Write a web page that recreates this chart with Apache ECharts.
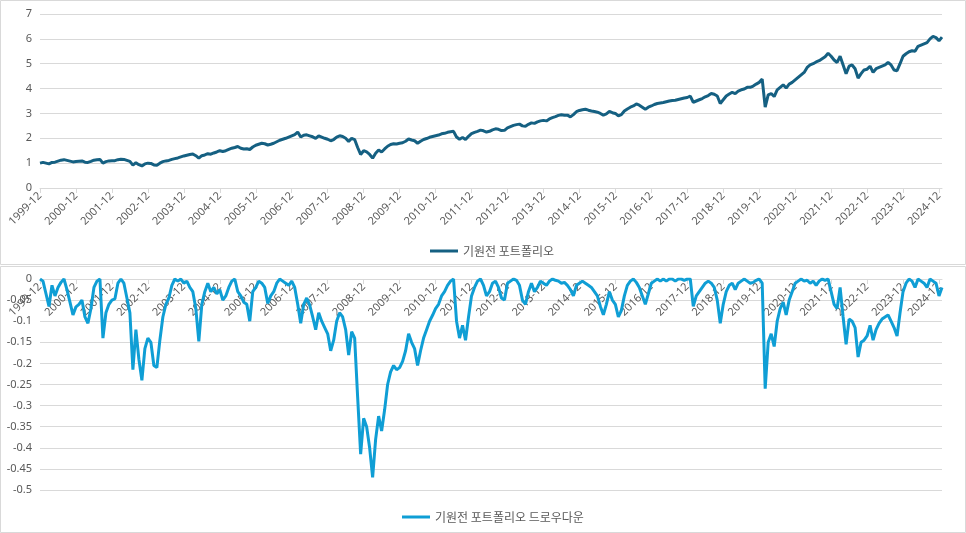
<!DOCTYPE html>
<html><head><meta charset="utf-8">
<script src="https://cdn.jsdelivr.net/npm/echarts@6/dist/echarts.min.js"></script>
<style>html,body{margin:0;padding:0;background:#fff}#c{width:966px;height:533px}</style>
</head><body><div id="c"></div>
<script>
var tickLabels = ['1999-12','2000-12','2001-12','2002-12','2003-12','2004-12','2005-12','2006-12','2007-12','2008-12','2009-12','2010-12','2011-12','2012-12','2013-12','2014-12','2015-12','2016-12','2017-12','2018-12','2019-12','2020-12','2021-12','2022-12','2023-12','2024-12'];
var seriesName1 = '기원전 포트폴리오';
var seriesName2 = '기원전 포트폴리오 드로우다운';
var portfolioValue = [1.0,
1.03,1.0,0.97,1.03,1.04,1.08,1.12,1.14,1.11,1.08,1.05,1.07,
1.08,1.09,1.04,1.03,1.07,1.12,1.14,1.15,1.0,1.06,1.09,1.1,
1.1,1.14,1.16,1.15,1.11,1.07,0.92,1.02,0.94,0.89,0.97,1.0,
0.99,0.93,0.92,1.0,1.06,1.09,1.11,1.15,1.18,1.21,1.25,1.29,
1.32,1.35,1.37,1.3,1.2,1.3,1.33,1.38,1.36,1.41,1.45,1.5,
1.47,1.5,1.55,1.6,1.63,1.67,1.6,1.57,1.58,1.55,1.65,1.72,
1.76,1.8,1.78,1.73,1.76,1.8,1.86,1.92,1.96,2.0,2.05,2.1,
2.15,2.25,2.05,2.12,2.14,2.1,2.06,2.0,2.1,2.05,2.0,1.96,
1.9,1.95,2.05,2.1,2.07,2.0,1.87,2.0,1.95,1.63,1.35,1.5,
1.45,1.35,1.2,1.4,1.53,1.45,1.57,1.68,1.75,1.78,1.77,1.8,
1.82,1.88,1.97,1.93,1.9,1.8,1.88,1.95,1.99,2.04,2.07,2.1,
2.13,2.18,2.2,2.24,2.26,2.28,2.05,1.96,2.03,1.95,2.08,2.19,
2.24,2.28,2.33,2.3,2.25,2.28,2.34,2.38,2.36,2.31,2.32,2.42,
2.47,2.52,2.55,2.57,2.5,2.48,2.56,2.62,2.6,2.66,2.7,2.72,
2.7,2.78,2.83,2.87,2.92,2.95,2.93,2.93,2.86,2.95,3.07,3.12,
3.15,3.17,3.13,3.1,3.08,3.05,3.0,2.93,2.98,3.08,3.03,3.0,
2.9,2.95,3.1,3.18,3.25,3.3,3.38,3.33,3.25,3.17,3.25,3.3,
3.36,3.4,3.42,3.44,3.47,3.5,3.52,3.53,3.56,3.59,3.62,3.64,
3.7,3.45,3.5,3.55,3.6,3.67,3.72,3.8,3.77,3.7,3.4,3.55,
3.7,3.78,3.85,3.8,3.9,3.95,3.98,4.05,4.05,4.1,4.18,4.25,
4.38,3.25,3.75,3.8,3.68,3.95,4.05,4.15,4.02,4.18,4.25,4.35,
4.45,4.55,4.65,4.85,4.95,5.0,5.07,5.12,5.2,5.28,5.42,5.3,
5.15,5.05,5.3,4.95,4.6,4.9,4.95,4.8,4.42,4.6,4.75,4.78,
4.9,4.65,4.8,4.85,4.9,4.95,5.05,4.95,4.75,4.72,5.0,5.3,
5.4,5.48,5.52,5.5,5.7,5.75,5.8,5.85,6.0,6.1,6.05,5.92,
6.07];
var drawdown = [0,
-0.005,-0.035,-0.065,-0.015,-0.04,-0.02,-0.008,0,-0.025,-0.055,-0.085,-0.066,
-0.06,-0.05,-0.09,-0.105,-0.07,-0.02,-0.005,0,-0.14,-0.08,-0.06,-0.05,
-0.047,-0.01,0,-0.01,-0.045,-0.08,-0.215,-0.12,-0.19,-0.24,-0.165,-0.14,
-0.15,-0.205,-0.21,-0.145,-0.09,-0.06,-0.045,-0.015,0,-0.005,0,-0.01,
-0.005,-0.02,-0.03,-0.07,-0.148,-0.06,-0.03,-0.01,-0.03,-0.02,-0.035,-0.025,
-0.05,-0.04,-0.02,-0.005,0,-0.03,-0.04,-0.055,-0.06,-0.1,-0.03,-0.02,
-0.005,-0.01,-0.02,-0.058,-0.04,-0.03,-0.01,0,-0.005,-0.01,-0.015,-0.005,
-0.02,-0.06,-0.105,-0.06,-0.045,-0.062,-0.09,-0.12,-0.08,-0.1,-0.115,-0.13,
-0.17,-0.145,-0.1,-0.08,-0.09,-0.12,-0.18,-0.125,-0.14,-0.28,-0.415,-0.33,
-0.35,-0.4,-0.47,-0.38,-0.325,-0.36,-0.31,-0.25,-0.22,-0.205,-0.215,-0.21,
-0.195,-0.17,-0.13,-0.15,-0.165,-0.205,-0.17,-0.14,-0.12,-0.1,-0.086,-0.07,
-0.06,-0.04,-0.03,-0.015,-0.005,0,-0.1,-0.14,-0.11,-0.145,-0.09,-0.04,
-0.02,-0.005,0,-0.015,-0.04,-0.03,-0.01,-0.005,-0.02,-0.045,-0.05,-0.01,
-0.005,0,-0.003,-0.015,-0.05,-0.06,-0.03,-0.01,-0.03,-0.02,-0.005,-0.01,
-0.015,-0.005,0,-0.003,-0.005,-0.01,-0.008,-0.015,-0.025,-0.04,-0.015,-0.01,
-0.005,-0.01,-0.015,-0.02,-0.03,-0.04,-0.065,-0.085,-0.06,-0.03,-0.05,-0.06,
-0.09,-0.075,-0.04,-0.015,-0.005,0,-0.008,-0.02,-0.04,-0.06,-0.035,-0.01,
-0.005,0,-0.005,0,-0.005,0,0,-0.005,0,0,-0.003,0,
0,-0.065,-0.04,-0.03,-0.02,-0.01,-0.005,-0.01,-0.02,-0.05,-0.105,-0.06,
-0.03,-0.015,-0.01,-0.025,-0.01,-0.005,0,-0.005,-0.01,-0.008,-0.003,0,
-0.01,-0.26,-0.15,-0.13,-0.16,-0.1,-0.07,-0.055,-0.085,-0.05,-0.03,-0.01,
-0.005,0,-0.005,-0.003,-0.01,-0.005,-0.015,-0.005,0,-0.003,0,-0.03,
-0.06,-0.07,-0.02,-0.09,-0.155,-0.095,-0.1,-0.115,-0.185,-0.15,-0.145,-0.135,
-0.11,-0.145,-0.12,-0.105,-0.095,-0.09,-0.085,-0.1,-0.115,-0.135,-0.08,-0.03,
-0.01,0,-0.005,-0.02,0,-0.005,-0.01,-0.02,0,-0.005,-0.01,-0.04,
-0.02];

// monthly categories built from the yearly tick labels
var categories = [];
(function(){
  var y = 1999, m = 12;
  for (var i = 0; i < portfolioValue.length; i++) {
    categories.push(y + '-' + (m < 10 ? '0' + m : m));
    m++; if (m > 12) { m = 1; y++; }
  }
})();
function isYearTick(idx){ return tickLabels.indexOf(categories[idx]) >= 0; }

var txt = '#595959', grid = '#d9d9d9';
var font = 'Noto Sans, Noto Sans CJK KR, sans-serif';
function xAxisFor(gi, off){
  return {
    type: 'category', data: categories, boundaryGap: false, gridIndex: gi, position: 'bottom', offset: off,
    axisLine: { onZero: false, lineStyle: { color: grid, width: 1 } },
    axisTick: { show: true, interval: function(i){ return isYearTick(i); }, length: 5, lineStyle: { color: grid } },
    axisLabel: { interval: function(i){ return isYearTick(i); }, rotate: 45, color: txt, fontSize: 11, fontFamily: font, margin: 6 },
    splitLine: { show: false }
  };
}
var chart = echarts.init(document.getElementById('c'));
chart.setOption({
  animation: false,
  textStyle: { fontFamily: font },
  graphic: [
    { type: 'rect', shape: { x: 0.5, y: 0.5, width: 965, height: 264 }, style: { fill: 'none', stroke: grid, lineWidth: 1 }, silent: true },
    { type: 'rect', shape: { x: 0.5, y: 266.5, width: 965, height: 266 }, style: { fill: 'none', stroke: grid, lineWidth: 1 }, silent: true }
  ],
  legend: [
    { data: [seriesName1], left: 425, top: 240, icon: 'rect', itemWidth: 28, itemHeight: 3, itemGap: 6, textStyle: { color: txt, fontSize: 12, fontFamily: 'Noto Sans CJK KR' } },
    { data: [seriesName2], left: 397, top: 506, icon: 'rect', itemWidth: 28, itemHeight: 3, itemGap: 6, textStyle: { color: txt, fontSize: 12, fontFamily: 'Noto Sans CJK KR' } }
  ],
  grid: [
    { left: 40, right: 24, top: 14, height: 174, containLabel: false },
    { left: 40, right: 24, top: 279, height: 211, containLabel: false }
  ],
  xAxis: [ xAxisFor(0, 0), xAxisFor(1, -211) ],
  yAxis: [
    { type: 'value', gridIndex: 0, min: 0, max: 7, interval: 1,
      axisLine: { show: false }, axisTick: { show: false },
      axisLabel: { color: txt, fontSize: 11, fontFamily: font, margin: 8 },
      splitLine: { lineStyle: { color: grid, width: 1 } } },
    { type: 'value', gridIndex: 1, min: -0.5, max: 0, interval: 0.05,
      axisLine: { show: false }, axisTick: { show: false },
      axisLabel: { color: txt, fontSize: 11, fontFamily: font, margin: 8,
        formatter: function(v){ return String(+v.toFixed(2)); } },
      splitLine: { lineStyle: { color: grid, width: 1 } } }
  ],
  series: [
    { name: seriesName1, type: 'line', xAxisIndex: 0, yAxisIndex: 0, data: portfolioValue,
      showSymbol: false, symbol: 'none', lineStyle: { color: '#156082', width: 3 }, itemStyle: { color: '#156082' } },
    { name: seriesName2, type: 'line', xAxisIndex: 1, yAxisIndex: 1, data: drawdown, z: 3,
      showSymbol: false, symbol: 'none', lineStyle: { color: '#0F9ED5', width: 3 }, itemStyle: { color: '#0F9ED5' } }
  ]
});
</script></body></html>
